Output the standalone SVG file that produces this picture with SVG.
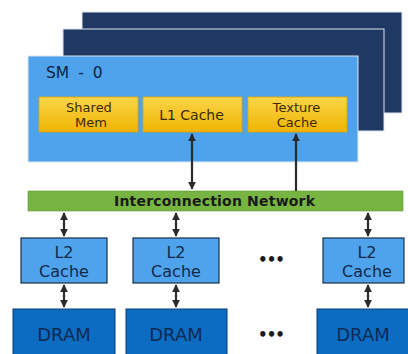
<svg xmlns="http://www.w3.org/2000/svg" width="408" height="354" viewBox="0 0 408 354">
<style>
text{font-family:"DejaVu Sans","Noto Sans",sans-serif;text-anchor:middle}
.back{fill:#1f3864;stroke:#dfe6ef;stroke-width:1}
.sm{fill:#4ea3ec;stroke:#dfe6ef;stroke-width:1}
.ybox{fill:url(#yg);stroke:#e0a400;stroke-width:0.8}
.yt{font-size:13px;fill:#3a2a00}
.l2{fill:#4ea3ec;stroke:#1e2d44;stroke-width:1.2}
.l2t{font-size:16px;fill:#13294b}
.dram{fill:#0b6cc2;stroke:#0a3d78;stroke-width:1}
.dt{font-size:18px;fill:#102a52}
.dots{font-size:15px;font-weight:bold;fill:#1a1a1a;letter-spacing:-1px}
.ln{stroke:#2a2a2a;stroke-width:2.2;fill:none}
</style>
<defs>
<linearGradient id="yg" x1="0" y1="0" x2="0" y2="1">
<stop offset="0" stop-color="#fbd54a"/>
<stop offset="1" stop-color="#efb400"/>
</linearGradient>
<marker id="ah" viewBox="0 0 10 10" refX="9" refY="5" markerWidth="3.6" markerHeight="3.6" orient="auto-start-reverse" markerUnits="strokeWidth">
<path d="M0,0 L10,5 L0,10 z" fill="#2a2a2a"/>
</marker>
</defs>
<g id="sm-back2"><rect class="back" x="82" y="12" width="320" height="101"/></g>
<g id="sm-back1"><rect class="back" x="63" y="29" width="321" height="102"/></g>
<g id="sm0">
<rect class="sm" x="28" y="56" width="330" height="106"/>
<text x="46" y="78" style="text-anchor:start;font-size:15.5px;word-spacing:4px;fill:#10243f">SM - 0</text>
</g>
<g id="shared-mem"><rect class="ybox" x="39" y="97" width="99" height="35"/>
<text class="yt" x="89" y="112">Shared</text><text class="yt" x="91" y="127">Mem</text></g>
<g id="l1-cache"><rect class="ybox" x="143" y="97" width="99" height="35"/>
<text class="yt" x="191.5" y="119.5" style="font-size:14px">L1 Cache</text></g>
<g id="texture-cache"><rect class="ybox" x="248" y="97" width="99" height="35"/>
<text class="yt" x="296.5" y="112">Texture</text><text class="yt" x="297" y="127">Cache</text></g>
<g id="interconnect"><rect x="28" y="191" width="375" height="20" fill="#78b442" stroke="#5f9a32" stroke-width="0.6"/>
<text x="214.5" y="206" textLength="201" style="font-size:14px;font-weight:bold;fill:#1a1a1a">Interconnection Network</text></g>
<g id="l2-a"><rect class="l2" x="21" y="238" width="86" height="45"/>
<text class="l2t" x="64" y="258">L2</text><text class="l2t" x="64" y="277">Cache</text></g>
<g id="l2-b"><rect class="l2" x="133" y="238" width="86" height="45"/>
<text class="l2t" x="176" y="258">L2</text><text class="l2t" x="176" y="277">Cache</text></g>
<g id="l2-c"><rect class="l2" x="323" y="238" width="81" height="45"/>
<text class="l2t" x="367" y="258">L2</text><text class="l2t" x="367" y="277">Cache</text></g>
<g id="dram-a"><rect class="dram" x="13" y="309" width="102" height="50"/>
<text class="dt" x="64" y="341">DRAM</text></g>
<g id="dram-b"><rect class="dram" x="126" y="309" width="101" height="50"/>
<text class="dt" x="176" y="341">DRAM</text></g>
<g id="dram-c"><rect class="dram" x="317" y="309" width="95" height="50"/>
<text class="dt" x="363" y="341">DRAM</text></g>
<g id="dots1"><text class="dots" x="271" y="265">•••</text></g>
<g id="dots2"><text class="dots" x="271" y="340">•••</text></g>
<g id="connectors">
<line class="ln" x1="192" y1="134" x2="192" y2="189" marker-start="url(#ah)" marker-end="url(#ah)"/>
<line class="ln" x1="296" y1="134" x2="296" y2="191" marker-start="url(#ah)"/>
<line class="ln" x1="64" y1="213" x2="64" y2="236" marker-start="url(#ah)" marker-end="url(#ah)"/>
<line class="ln" x1="176" y1="213" x2="176" y2="236" marker-start="url(#ah)" marker-end="url(#ah)"/>
<line class="ln" x1="368" y1="213" x2="368" y2="236" marker-start="url(#ah)" marker-end="url(#ah)"/>
<line class="ln" x1="64" y1="285" x2="64" y2="307" marker-start="url(#ah)" marker-end="url(#ah)"/>
<line class="ln" x1="176" y1="285" x2="176" y2="307" marker-start="url(#ah)" marker-end="url(#ah)"/>
<line class="ln" x1="368" y1="285" x2="368" y2="307" marker-start="url(#ah)" marker-end="url(#ah)"/>
</g>
</svg>
